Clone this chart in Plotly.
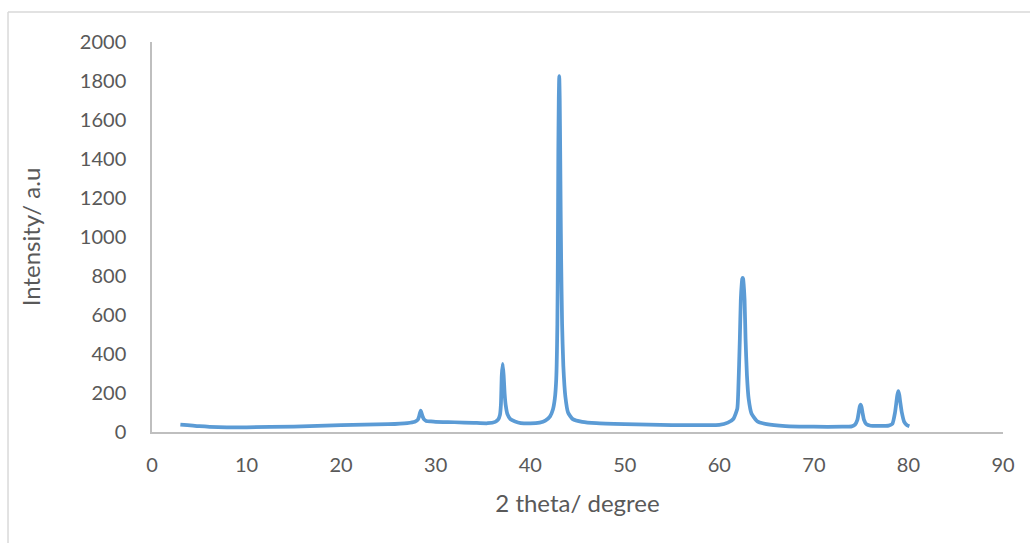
import plotly.graph_objects as go

# XRD pattern: 2-theta positions (degree) and intensities (a.u.)
two_theta = [
    3.0, 5.0, 7.0, 10.0, 15.0, 20.0, 25.0, 27.0,
    27.8, 28.1, 28.25, 28.32, 28.42, 28.52, 28.6, 28.75, 29.0, 29.5,
    30.0, 32.0, 34.0, 35.5,
    36.3, 36.6, 36.8, 36.9, 36.99, 37.09, 37.19, 37.29, 37.4, 37.6, 37.9, 38.4,
    39.0, 40.0, 41.0, 41.6, 42.1, 42.4, 42.6, 42.75, 42.87, 42.92, 42.97, 43.02, 43.07,
    43.12, 43.17, 43.22, 43.27, 43.37, 43.5, 43.72, 44.0, 44.5, 45.5,
    47.0, 50.0, 55.0, 58.0, 60.0,
    60.9, 61.5, 61.9, 62.0, 62.17, 62.27, 62.37, 62.42, 62.47,
    62.52, 62.57, 62.67, 62.77, 62.92, 63.1, 63.4, 64.0, 65.0,
    67.0, 70.0, 73.0, 74.0,
    74.35, 74.6, 74.74, 74.84, 74.94, 75.04, 75.14, 75.3, 75.55, 76.0,
    77.0, 77.9, 78.3, 78.58, 78.73, 78.83, 78.93, 79.03, 79.13, 79.3, 79.55, 79.85, 80.1,
]
intensity = [
    38, 30, 25, 24, 28, 35, 40, 46,
    53, 62, 80, 95, 110, 95, 82, 66, 57, 54,
    52, 50, 47, 45,
    52, 63, 88, 140, 290, 350, 290, 200, 140, 90, 66, 54,
    46, 44, 48, 58, 80, 115, 170, 270, 555, 890, 1440, 1710, 1825,
    1710, 1440, 1140, 890, 555, 340, 180, 100, 66, 52,
    45, 40, 35, 35, 36,
    48, 68, 120, 205, 480, 678, 759, 785, 790,
    785, 759, 678, 480, 290, 170, 95, 55, 40,
    30, 27, 27, 29,
    38, 62, 100, 128, 140, 128, 100, 62, 40, 32,
    31, 33, 42, 100, 155, 190, 210, 190, 155, 100, 52, 35, 30,
]

x_ticks = [0, 10, 20, 30, 40, 50, 60, 70, 80, 90]
y_ticks = [0, 200, 400, 600, 800, 1000, 1200, 1400, 1600, 1800, 2000]

LINE_BLUE = "#5B9BD5"
TEXT_GREY = "#595959"
AXIS_GREY = "#BFBFBF"
FRAME_GREY = "#D9D9D9"
FONT = "Lato, 'Open Sans', sans-serif"

fig = go.Figure()
fig.add_trace(go.Scatter(
    x=two_theta, y=intensity, mode="lines",
    line=dict(color=LINE_BLUE, width=3.75, shape="spline", smoothing=0.5),
    hoverinfo="x+y", showlegend=False,
))

fig.update_layout(
    width=1030, height=543,
    margin=dict(l=152, r=27, t=42, b=111),
    paper_bgcolor="white", plot_bgcolor="white",
    font=dict(family=FONT, size=20, color=TEXT_GREY),
    xaxis=dict(
        range=[0, 90], tickvals=x_ticks, ticktext=[str(v) for v in x_ticks],
        showgrid=False, zeroline=False, showline=True, linecolor=AXIS_GREY, linewidth=1.5,
        ticks="", ticklabelstandoff=14,
        title=dict(text="2 theta/ degree", standoff=20, font=dict(size=24, color=TEXT_GREY)),
    ),
    yaxis=dict(
        range=[0, 2000], tickvals=y_ticks, ticktext=[str(v) for v in y_ticks],
        showgrid=False, zeroline=False, showline=True, linecolor=AXIS_GREY, linewidth=1.5,
        ticks="", ticklabelstandoff=20,
        title=dict(text="Intensity/ a.u", standoff=32, font=dict(size=24, color=TEXT_GREY)),
    ),
    shapes=[
        # outer chart frame (left and top edges)
        dict(type="line", xref="paper", yref="paper", x0=-0.1692, x1=-0.1692, y0=1.0769, y1=-0.32,
             line=dict(color=FRAME_GREY, width=1.5)),
        dict(type="line", xref="paper", yref="paper", x0=-0.1692, x1=1.05, y0=1.0769, y1=1.0769,
             line=dict(color=FRAME_GREY, width=1.5)),
    ],
)

fig.write_html("out.html")
